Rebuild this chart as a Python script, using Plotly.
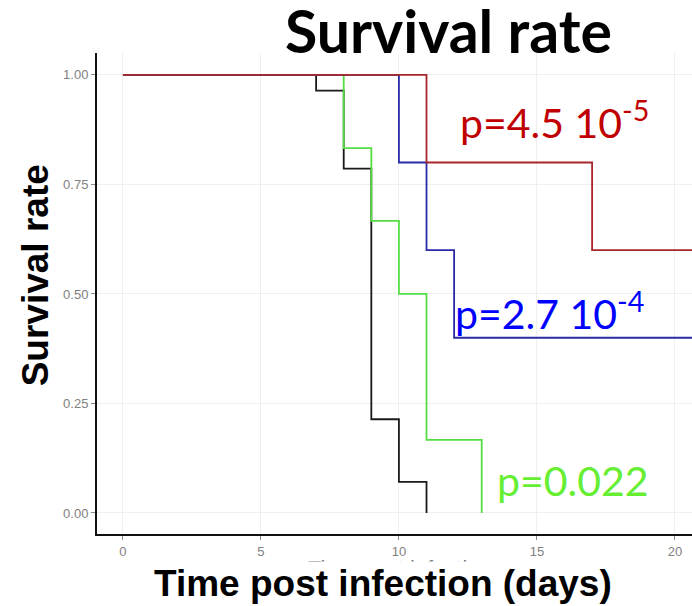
import plotly.graph_objects as go

# ---- data ----
black_days = [0, 7, 8, 9, 10, 11]
black_surv = [1.0, 0.964, 0.786, 0.214, 0.071, 0.0]

green_days = [0, 8, 9, 10, 11, 13]
green_surv = [1.0, 0.833, 0.667, 0.5, 0.167, 0.0]

blue_days = [0, 10, 11, 12, 21]
blue_surv = [1.0, 0.8, 0.6, 0.4, 0.4]

red_days = [0, 11, 17, 21]
red_surv = [1.0, 0.8, 0.6, 0.6]

x_ticks = [0, 5, 10, 15, 20]
y_ticks = [0.0, 0.25, 0.5, 0.75, 1.0]
y_tick_labels = ["0.00", "0.25", "0.50", "0.75", "1.00"]

p_red = "p=4.5 10<sup>-5</sup>"
p_blue = "p=2.7 10<sup>-4</sup>"
p_green = "p=0.022"

fig = go.Figure()
series = [
    (black_days, black_surv, "#1a1a1a"),
    (green_days, green_surv, "#55DD44"),
    (blue_days, blue_surv, "#2A2AA8"),
    (red_days, red_surv, "#A8262A"),
]
for xs, ys, col in series:
    fig.add_trace(go.Scatter(x=xs, y=ys, mode="lines", line=dict(color=col, width=1.8, shape="hv"),
                             showlegend=False, hoverinfo="skip"))

axis_font = dict(family="Liberation Sans, Arial", size=13, color="#808080")
fig.update_xaxes(range=[-0.94, 20.62], tickvals=x_ticks, ticks="outside", ticklen=4, tickcolor="#8a8a8a",
                 tickfont=axis_font, showgrid=True, gridcolor="#EFEFEF", gridwidth=1,
                 showline=True, linecolor="#111111", linewidth=2, zeroline=False)
fig.update_yaxes(range=[-0.048, 1.05], tickvals=y_ticks, ticktext=y_tick_labels, ticks="outside", ticklen=4,
                 tickcolor="#8a8a8a", tickfont=axis_font, showgrid=True, gridcolor="#EFEFEF", gridwidth=1,
                 showline=True, linecolor="#111111", linewidth=2, zeroline=False)

annotations = [
    # faint original axis title, mostly hidden under the big one
    dict(text="Time post infection", xref="paper", yref="paper", x=0.51, y=-0.042, xanchor="center",
         yanchor="top", showarrow=False, font=dict(family="Liberation Sans, Arial", size=22, color="#7a7a7a")),
    dict(text="<b>Time post infection (days)</b>", xref="paper", yref="paper", x=0.481, y=-0.102,
         xanchor="center", yanchor="middle", showarrow=False, bgcolor="white",
         font=dict(family="Liberation Sans, Arial", size=37, color="black")),
    dict(text="<b>Survival rate</b>", xref="paper", yref="paper", x=-0.104, y=0.538, textangle=-90,
         xanchor="center", yanchor="middle", showarrow=False,
         font=dict(family="Liberation Sans, Arial", size=37, color="black")),
    dict(text="<b>Survival rate</b>", xref="paper", yref="paper", x=0.59, y=1.046, xanchor="center",
         yanchor="middle", showarrow=False, font=dict(family="Lato", size=59, color="black")),
    dict(text=p_red, x=12.14, y=0.897, xanchor="left", yanchor="middle", showarrow=False,
         font=dict(family="Lato", size=41, color="#C00000")),
    dict(text=p_blue, x=11.95, y=0.461, xanchor="left", yanchor="middle", showarrow=False,
         font=dict(family="Lato", size=41, color="#0000FF")),
    dict(text=p_green, x=13.48, y=0.073, xanchor="left", yanchor="middle", showarrow=False,
         font=dict(family="Lato", size=41, color="#66EE33")),
]

fig.update_layout(width=692, height=606, margin=dict(l=97, r=0, t=53, b=72),
                  plot_bgcolor="white", paper_bgcolor="white", annotations=annotations)

fig.write_html("out.html", config={"displayModeBar": False},
               post_script="document.body.style.margin='0';document.body.style.padding='0';")
